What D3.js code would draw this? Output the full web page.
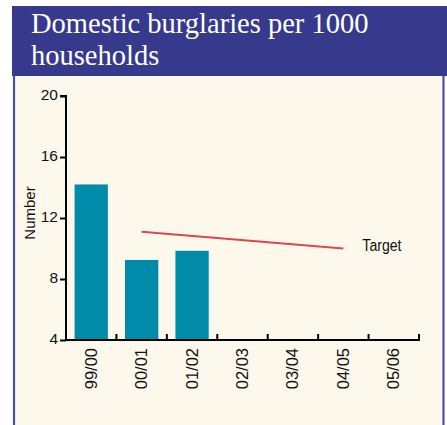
<!DOCTYPE html>
<html>
<head>
<meta charset="utf-8">
<script src="https://cdn.jsdelivr.net/npm/d3@7"></script>
<style>
  html, body { margin: 0; padding: 0; background: #ffffff; }
  svg { display: block; }
</style>
</head>
<body>
<svg id="chart" width="447" height="425"></svg>
<script>
// Financial years shown on the x axis
const years = ["99/00", "00/01", "01/02", "02/03", "03/04", "04/05", "05/06"];
// Recorded domestic burglaries per 1000 households
const burglaryYears = ["99/00", "00/01", "01/02"];
const burglaryRates = [14.2, 9.25, 9.85];
// Target trajectory
const targetYears = ["00/01", "04/05"];
const targetRates = [11.1, 10.0];
// Y axis ticks
const yTicks = [4, 8, 12, 16, 20];

const svg = d3.select("#chart");

// Panel background and frame
svg.append("rect").attr("x", 13).attr("y", 6).attr("width", 431).attr("height", 425)
  .attr("fill", "#fdf8ec");
svg.append("line").attr("x1", 14).attr("x2", 14).attr("y1", 6).attr("y2", 425)
  .attr("stroke", "#4c51a8").attr("stroke-width", 2.2);
svg.append("line").attr("x1", 443.5).attr("x2", 443.5).attr("y1", 6).attr("y2", 425)
  .attr("stroke", "#4c51a8").attr("stroke-width", 2.2);

// Title bar
svg.append("rect").attr("x", 12).attr("y", 6).attr("width", 435).attr("height", 70)
  .attr("fill", "#373a8c");
const title = svg.append("text")
  .attr("font-family", "'Liberation Serif', 'DejaVu Serif', serif")
  .attr("font-size", 28.5).attr("fill", "#ffffff");
title.append("tspan").attr("x", 31).attr("y", 33).text("Domestic burglaries per 1000");
title.append("tspan").attr("x", 31).attr("y", 65).text("households");

// Scales
const x = d3.scaleBand().domain(years).range([66, 419]).paddingInner(0.34).paddingOuter(0.17);
const y = d3.scaleLinear().domain([4, 20]).range([340, 96]);

const font = "'Liberation Sans', Arial, sans-serif";

// Bars
svg.append("g").selectAll("rect")
  .data(burglaryYears.map((d, i) => ({ year: d, value: burglaryRates[i] })))
  .join("rect")
  .attr("x", d => x(d.year))
  .attr("width", x.bandwidth())
  .attr("y", d => y(d.value))
  .attr("height", d => y(4) - y(d.value))
  .attr("fill", "#008ca8");

// Target line
const targetPts = targetYears.map((d, i) => [x(d) + x.bandwidth() / 2, y(targetRates[i])]);
svg.append("path")
  .attr("d", d3.line()(targetPts))
  .attr("stroke", "#e0464d").attr("stroke-width", 2.2).attr("fill", "none");
// Label set in a condensed face (horizontally compressed)
svg.append("text")
  .attr("transform", `translate(${targetPts[1][0] + 19},${targetPts[1][1] + 2}) scale(0.83,1)`)
  .attr("font-family", font).attr("font-size", 17).attr("fill", "#111")
  .text("Target");

// Y axis
const yAxis = svg.append("g").attr("transform", "translate(66,0)")
  .call(d3.axisLeft(y).tickValues(yTicks).tickSize(6).tickPadding(2).tickFormat(d3.format("d")));
yAxis.select(".domain").attr("d", "M-6,96H0V340");
yAxis.selectAll("path, line").attr("stroke", "#000").attr("stroke-width", 2);
yAxis.selectAll("text").attr("font-family", font).attr("font-size", 15.5).attr("fill", "#111")
  .attr("dy", "0.25em");

// X axis with ticks at band boundaries
const xAxis = svg.append("g").attr("transform", "translate(0,340)");
xAxis.append("line").attr("x1", 65).attr("x2", 420).attr("y1", 0).attr("y2", 0)
  .attr("stroke", "#000").attr("stroke-width", 2);
const step = x.step();
const bounds = years.map((d, i) => x(d) - (step - x.bandwidth()) / 2 + step);
xAxis.selectAll("line.tick").data(bounds).join("line").attr("class", "tick")
  .attr("x1", d => d).attr("x2", d => d).attr("y1", 0).attr("y2", -6)
  .attr("stroke", "#000").attr("stroke-width", 2);
xAxis.selectAll("text").data(years).join("text")
  .attr("transform", d => `translate(${x(d) + x.bandwidth() / 2 + 5.5},8) rotate(-90)`)
  .attr("text-anchor", "end")
  .attr("font-family", font).attr("font-size", 16.5).attr("fill", "#111")
  .text(d => d);

// Y axis title
svg.append("text")
  .attr("transform", "translate(35,213) rotate(-90)")
  .attr("text-anchor", "middle")
  .attr("font-family", font).attr("font-size", 15).attr("fill", "#111")
  .text("Number");
</script>
</body>
</html>
